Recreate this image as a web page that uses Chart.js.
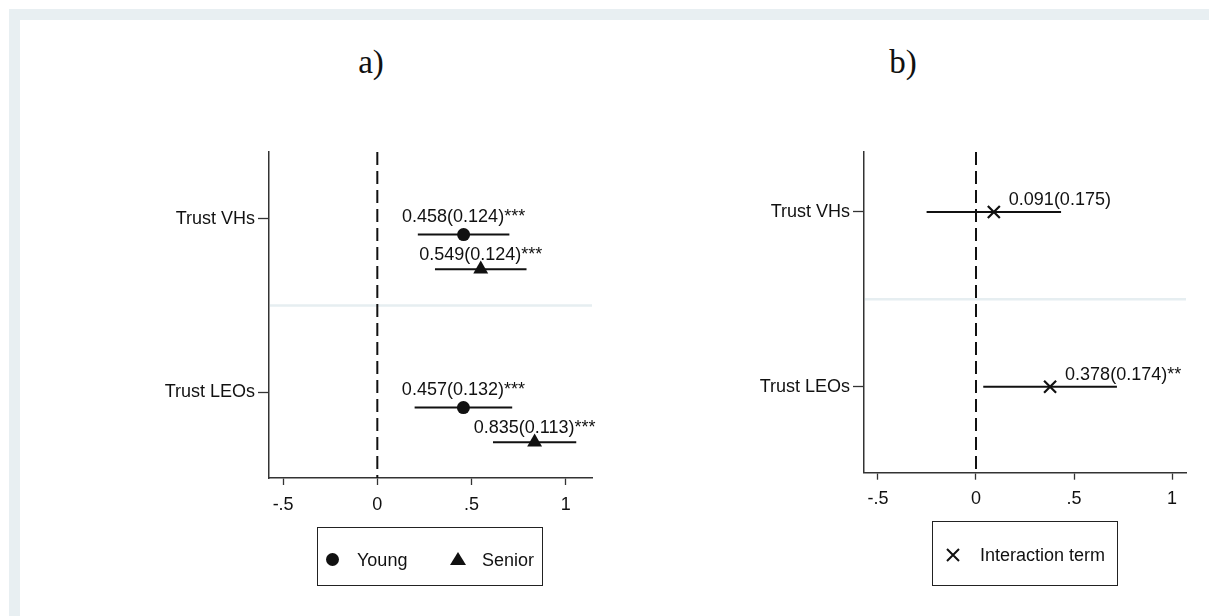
<!DOCTYPE html>
<html>
<head>
<meta charset="utf-8">
<script src="https://cdn.jsdelivr.net/npm/chart.js@4.4.0/dist/chart.umd.min.js"></script>
<style>
body{margin:0;background:#fff;font-family:"Liberation Sans",Arial,sans-serif;color:#111;overflow:hidden;}
#frame{position:absolute;left:9px;top:9px;right:0;bottom:0;border-left:11px solid #e8eff2;border-top:11px solid #e8eff2;}
canvas{position:absolute;top:0;}
#chartA{left:0;}
#chartB{left:620px;}
.title{position:absolute;width:100px;text-align:center;font-family:"Liberation Serif","Times New Roman",serif;font-size:33px;line-height:32px;top:46px;}
.lbox{position:absolute;box-sizing:border-box;border:1.5px solid #222;}
.ltext{position:absolute;font-size:18px;line-height:18px;white-space:nowrap;}
.dot{position:absolute;width:13px;height:13px;border-radius:50%;background:#111;}
.tri{position:absolute;width:0;height:0;border-left:8px solid transparent;border-right:8px solid transparent;border-bottom:13px solid #111;}
.cross{position:absolute;}
</style>
</head>
<body>
<div id="frame"></div>
<div class="title" style="left:321px">a)</div>
<div class="title" style="left:853px">b)</div>
<canvas id="chartA" width="620" height="616"></canvas>
<canvas id="chartB" width="589" height="616"></canvas>

<!-- legends -->
<div class="lbox" style="left:317px;top:527px;width:226px;height:59px"></div>
<div class="dot" style="left:326px;top:553px"></div>
<div class="ltext" style="left:357px;top:551px">Young</div>
<div class="tri" style="left:450px;top:552px"></div>
<div class="ltext" style="left:482px;top:551px">Senior</div>

<div class="lbox" style="left:932px;top:521px;width:186px;height:65px"></div>
<svg class="cross" style="left:946px;top:548px" width="14" height="14"><path d="M1 1L13 13M13 1L1 13" stroke="#111" stroke-width="2"/></svg>
<div class="ltext" style="left:980px;top:546px">Interaction term</div>

<script>
// categories and axis ticks
const categories = ['Trust VHs', 'Trust LEOs'];
const catPos = [1, 2];
const xTickValues = [-0.5, 0, 0.5, 1];
const xTickLabels = ['-.5', '0', '.5', '1'];

// a) Young
const youngEst = [0.458, 0.457];
const youngSe = [0.124, 0.132];
const youngLo = [0.215, 0.198];
const youngHi = [0.701, 0.716];
const youngStars = ['***', '***'];

// a) Senior
const seniorEst = [0.549, 0.835];
const seniorSe = [0.124, 0.113];
const seniorLo = [0.306, 0.614];
const seniorHi = [0.792, 1.056];
const seniorStars = ['***', '***'];

// b) Interaction term
const interEst = [0.091, 0.378];
const interSe = [0.175, 0.174];
const interLo = [-0.252, 0.037];
const interHi = [0.434, 0.719];
const interStars = ['', '**'];

const ink = '#111';
const FONT = '"Liberation Sans", Arial, sans-serif';

function fmtLabels(est, se, stars){
    return est.map((e, i) => e.toFixed(3) + '(' + se[i].toFixed(3) + ')' + stars[i]);
}

// horizontal CI segments, one dataset each
function ciSets(lo, hi, shift){
    return catPos.map((p, i) => ({
        data: [{x: lo[i], y: p + shift}, {x: hi[i], y: p + shift}],
        showLine: true, borderColor: ink, borderWidth: 2, pointRadius: 0, order: 2
    }));
}

function zeroLine(yMin, yMax){
    return {
        data: [{x: 0, y: yMin}, {x: 0, y: yMax}],
        showLine: true, borderColor: ink, borderWidth: 2, borderDash: [13, 6],
        pointRadius: 0, order: 3
    };
}

// light separator between the two categories
const separator = {
    id: 'separator',
    beforeDatasetsDraw(chart){
        const {ctx, chartArea, scales} = chart;
        const y = scales.y.getPixelForValue(1.5);
        ctx.save();
        ctx.strokeStyle = '#e6eef1';
        ctx.lineWidth = 2.5;
        ctx.beginPath();
        ctx.moveTo(chartArea.left + 1, y);
        ctx.lineTo(chartArea.right, y);
        ctx.stroke();
        ctx.restore();
    }
};

// coefficient(se) labels next to the markers
const estLabels = {
    id: 'estLabels',
    afterDatasetsDraw(chart){
        const ctx = chart.ctx;
        chart.data.datasets.forEach((ds, di) => {
            if(!ds.valueLabels) return;
            const meta = chart.getDatasetMeta(di);
            ctx.save();
            ctx.font = '18px ' + FONT;
            ctx.fillStyle = ink;
            ctx.textBaseline = 'middle';
            ctx.textAlign = ds.labelAlign;
            meta.data.forEach((pt, i) => {
                ctx.fillText(ds.valueLabels[i], pt.x + ds.labelDx, pt.y + ds.labelDy);
            });
            ctx.restore();
        });
    }
};

function makeScales(xMin, xMax, yMin, yMax, yAxisWidth){
    return {
        x: {
            type: 'linear', min: xMin, max: xMax,
            afterBuildTicks: s => { s.ticks = xTickValues.map(v => ({value: v})); },
            afterFit: s => { s.height = 40; },
            ticks: {
                callback: v => xTickLabels[xTickValues.indexOf(v)],
                color: ink, font: {size: 18, family: FONT}, padding: 9,
                maxRotation: 0, autoSkip: false
            },
            grid: {drawOnChartArea: false, drawTicks: true, tickLength: 7, tickColor: '#333', tickWidth: 1.3},
            border: {color: '#333', width: 1.5}
        },
        y: {
            type: 'linear', reverse: true, min: yMin, max: yMax,
            afterBuildTicks: s => { s.ticks = catPos.map(v => ({value: v})); },
            afterFit: s => { s.width = yAxisWidth; },
            ticks: {
                callback: v => categories[catPos.indexOf(v)],
                color: ink, font: {size: 18, family: FONT}, padding: 3, autoSkip: false
            },
            grid: {drawOnChartArea: false, drawTicks: true, tickLength: 11, tickColor: '#333', tickWidth: 1.3},
            border: {color: '#333', width: 1.5}
        }
    };
}

const commonOpts = {
    responsive: false,
    animation: false,
    plugins: {legend: {display: false}, tooltip: {enabled: false}}
};

// panel a
const aYMin = 0.613, aYMax = 2.497;
new Chart(document.getElementById('chartA'), {
    type: 'scatter',
    data: {
        datasets: [
            {
                label: 'Young',
                data: catPos.map((p, i) => ({x: youngEst[i], y: p + 0.09})),
                pointStyle: 'circle', pointRadius: 6.5, backgroundColor: ink, borderWidth: 0, order: 0,
                valueLabels: fmtLabels(youngEst, youngSe, youngStars), labelAlign: 'center', labelDx: 0, labelDy: -17.5
            },
            {
                label: 'Senior',
                data: catPos.map((p, i) => ({x: seniorEst[i], y: p + 0.29})),
                pointStyle: 'triangle', pointRadius: 8.6, backgroundColor: ink, borderWidth: 0, order: 0,
                valueLabels: fmtLabels(seniorEst, seniorSe, seniorStars), labelAlign: 'center', labelDx: 0, labelDy: -14
            },
            ...ciSets(youngLo, youngHi, 0.09),
            ...ciSets(seniorLo, seniorHi, 0.29),
            zeroLine(aYMin, aYMax)
        ]
    },
    options: {
        ...commonOpts,
        layout: {padding: {left: 0, right: 28, top: 152, bottom: 98}},
        scales: makeScales(-0.575, 1.1396, aYMin, aYMax, 269)
    },
    plugins: [separator, estLabels]
});

// panel b
const bYMin = 0.6566, bYMax = 2.4923;
new Chart(document.getElementById('chartB'), {
    type: 'scatter',
    data: {
        datasets: [
            {
                label: 'Interaction term',
                data: catPos.map((p, i) => ({x: interEst[i], y: p})),
                pointStyle: 'crossRot', pointRadius: 8.5, borderColor: ink, borderWidth: 2.2, order: 0,
                valueLabels: fmtLabels(interEst, interSe, interStars), labelAlign: 'left', labelDx: 15, labelDy: -12
            },
            ...ciSets(interLo, interHi, 0),
            zeroLine(bYMin, bYMax)
        ]
    },
    options: {
        ...commonOpts,
        layout: {padding: {left: 0, right: 23, top: 152, bottom: 103.3}},
        scales: makeScales(-0.5714, 1.0714, bYMin, bYMax, 244)
    },
    plugins: [separator, estLabels]
});
</script>
</body>
</html>
